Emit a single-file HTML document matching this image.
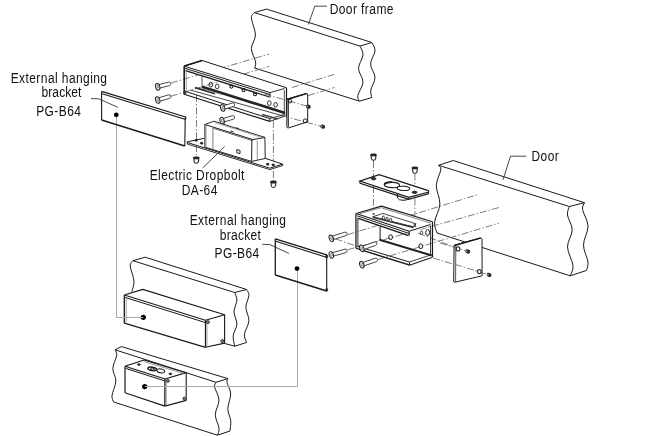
<!DOCTYPE html>
<html><head><meta charset="utf-8"><style>
html,body{margin:0;padding:0;background:#fff;}
svg{display:block;will-change:transform;}
text{font-family:"Liberation Sans",sans-serif;fill:#111;}
</style></head><body>
<svg width="650" height="436" viewBox="0 0 650 436">
<rect width="650" height="436" fill="#fff"/>
<text transform="translate(10.70 82.5) scale(1 1.15)" x="0" y="0" font-size="12" letter-spacing="0.42">External hanging</text>
<text transform="translate(41.50 96.6) scale(1 1.15)" x="0" y="0" font-size="12" letter-spacing="0.1">bracket</text>
<text transform="translate(36.20 115.6) scale(1 1.15)" x="0" y="0" font-size="12" letter-spacing="0.42">PG-B64</text>
<text transform="translate(329.70 13.8) scale(1 1.15)" x="0" y="0" font-size="12" letter-spacing="0.42">Door frame</text>
<text transform="translate(149.70 179.8) scale(1 1.15)" x="0" y="0" font-size="12" letter-spacing="0.42">Electric Dropbolt</text>
<text transform="translate(181.70 194.7) scale(1 1.15)" x="0" y="0" font-size="12" letter-spacing="0.42">DA-64</text>
<text transform="translate(531.50 160.7) scale(1 1.15)" x="0" y="0" font-size="12" letter-spacing="0.42">Door</text>
<text transform="translate(189.70 224.8) scale(1 1.15)" x="0" y="0" font-size="12" letter-spacing="0.42">External hanging</text>
<text transform="translate(219.70 239.7) scale(1 1.15)" x="0" y="0" font-size="12" letter-spacing="0.3">bracket</text>
<text transform="translate(214.50 257.6) scale(1 1.15)" x="0" y="0" font-size="12" letter-spacing="0.42">PG-B64</text>
<polyline points="254.5,12.6 266.5,9.1 371.9,42.5 360,46.1 254.5,12.6" fill="none" stroke="#1a1a1a" stroke-width="1.0" stroke-linejoin="round"/>
<path d="M254.6,12.7 C254.07,13.55 251.27,14.08 251.4,17.8 C251.53,21.52 255.40,29.88 255.4,35 C255.40,40.12 251.37,44.00 251.4,48.5 C251.43,53.00 255.07,58.72 255.6,62 C256.13,65.28 254.77,67.17 254.6,68.2" fill="none" stroke="#1a1a1a" stroke-width="1.0" />
<line x1="254.5" y1="68" x2="359.4" y2="101.2" stroke="#1a1a1a" stroke-width="1.0" />
<path d="M360,46.1 C360.50,47.58 363.25,51.27 363,55 C362.75,58.73 358.50,64.00 358.5,68.5 C358.50,73.00 363.12,77.50 363,82 C362.88,86.50 358.40,92.30 357.8,95.5 C357.20,98.70 359.13,100.25 359.4,101.2" fill="none" stroke="#1a1a1a" stroke-width="1.0" />
<path d="M371.9,42.5 C372.42,43.92 375.22,47.42 375,51 C374.78,54.58 370.60,59.58 370.6,64 C370.60,68.42 374.97,73.17 375,77.5 C375.03,81.83 371.32,86.67 370.8,90 C370.28,93.33 371.72,96.25 371.9,97.5" fill="none" stroke="#1a1a1a" stroke-width="1.0" />
<line x1="359.4" y1="101.2" x2="371.9" y2="97.5" stroke="#1a1a1a" stroke-width="1.0" />
<polyline points="308.3,24.5 314.8,6.2 327,6.2" fill="none" stroke="#333" stroke-width="0.9" stroke-linejoin="round"/>
<polyline points="438.6,165.3 453.2,160.5 584.5,202.7 569.4,206.5 438.6,165.3" fill="none" stroke="#1a1a1a" stroke-width="1.0" stroke-linejoin="round"/>
<path d="M438.6,165.3 C438.97,166.05 441.18,166.43 440.8,169.8 C440.42,173.17 436.45,179.80 436.3,185.5 C436.15,191.20 440.18,197.92 439.9,204 C439.62,210.08 435.08,217.17 434.6,222 C434.12,226.83 436.60,231.17 437,233" fill="none" stroke="#1a1a1a" stroke-width="1.0" />
<line x1="437" y1="233" x2="570.2" y2="275.8" stroke="#1a1a1a" stroke-width="1.0" />
<path d="M569.4,206.5 C569.08,207.92 567.03,211.08 567.5,215 C567.97,218.92 572.20,224.67 572.2,230 C572.20,235.33 567.37,241.08 567.5,247 C567.63,252.92 572.55,260.70 573,265.5 C573.45,270.30 570.67,274.08 570.2,275.8" fill="none" stroke="#1a1a1a" stroke-width="1.0" />
<path d="M584.5,202.7 C584.18,203.83 582.02,205.58 582.6,209.5 C583.18,213.42 587.85,220.28 588,226.2 C588.15,232.12 583.50,239.03 583.5,245 C583.50,250.97 587.52,257.75 588,262 C588.48,266.25 586.67,269.08 586.4,270.5" fill="none" stroke="#1a1a1a" stroke-width="1.0" />
<line x1="570.2" y1="275.8" x2="586.4" y2="270.5" stroke="#1a1a1a" stroke-width="1.0" />
<polyline points="503.1,179.7 510.5,156.2 526.2,156.2" fill="none" stroke="#333" stroke-width="0.9" stroke-linejoin="round"/>
<polyline points="132.9,260.7 145.2,257.2 246.6,289.5 234.7,292.5 132.9,260.7" fill="none" stroke="#1a1a1a" stroke-width="1.0" stroke-linejoin="round"/>
<path d="M132.9,260.7 C132.45,261.58 130.02,262.62 130.2,266 C130.38,269.38 133.72,276.73 134,281 C134.28,285.27 132.25,289.83 131.9,291.6" fill="none" stroke="#1a1a1a" stroke-width="1.0" />
<path d="M234.7,292.5 C235.07,293.75 237.02,296.75 236.9,300 C236.78,303.25 234.00,308.00 234,312 C234.00,316.00 237.03,320.05 236.9,324 C236.77,327.95 233.57,332.00 233.2,335.7 C232.83,339.40 234.45,344.45 234.7,346.2" fill="none" stroke="#1a1a1a" stroke-width="1.0" />
<path d="M246.6,289.5 C246.98,290.48 249.02,292.42 248.9,295.4 C248.78,298.38 245.90,303.17 245.9,307.4 C245.90,311.63 249.15,316.32 248.9,320.8 C248.65,325.28 244.78,330.68 244.4,334.3 C244.02,337.92 246.23,341.13 246.6,342.5" fill="none" stroke="#1a1a1a" stroke-width="1.0" />
<line x1="234.7" y1="346.2" x2="246.6" y2="342.5" stroke="#1a1a1a" stroke-width="1.0" />
<line x1="224" y1="343.3" x2="234.7" y2="346.2" stroke="#1a1a1a" stroke-width="1.0" />
<path d="M124.3,295 L142.8,289.4 L224.6,314.8 L224.6,343.1 L205.5,347.3 L124.3,323.2 Z" fill="#fff" stroke="none" stroke-width="0" />
<polyline points="124.3,295 142.8,289.4 224.6,314.8 205.5,320.3 124.3,295" fill="none" stroke="#1a1a1a" stroke-width="1.1" stroke-linejoin="round"/>
<line x1="125" y1="297.4" x2="205.5" y2="322.6" stroke="#1a1a1a" stroke-width="1.0" />
<line x1="124.3" y1="295" x2="124.3" y2="323.2" stroke="#1a1a1a" stroke-width="1.3" />
<line x1="126.2" y1="297" x2="126.2" y2="322.5" stroke="#777" stroke-width="0.7" />
<line x1="124.3" y1="323.2" x2="205.5" y2="347.3" stroke="#1a1a1a" stroke-width="1.2" />
<line x1="205.5" y1="320.3" x2="205.5" y2="347.3" stroke="#1a1a1a" stroke-width="1.3" />
<line x1="207" y1="322" x2="207" y2="346.5" stroke="#888" stroke-width="0.7" />
<line x1="224.6" y1="314.8" x2="224.6" y2="343.1" stroke="#1a1a1a" stroke-width="1.1" />
<line x1="205.5" y1="347.3" x2="224.6" y2="343.1" stroke="#1a1a1a" stroke-width="1.1" />
<ellipse cx="207.9" cy="322.1" rx="1.5" ry="1.5" fill="#888" stroke="#333" stroke-width="1.0" transform="rotate(0 207.9 322.1)"/>
<ellipse cx="222.3" cy="341" rx="1.5" ry="1.5" fill="#888" stroke="#333" stroke-width="1.0" transform="rotate(0 222.3 341)"/>
<circle cx="143.3" cy="317.3" r="2.6" fill="#000"/>
<polyline points="116.5,115 116.5,317.5 143.2,317.5" fill="none" stroke="#a8a8a8" stroke-width="1.0" stroke-linejoin="round"/>
<polyline points="115.1,349.8 121.5,346.6 227.8,378.6 216,382.3 115.1,349.8" fill="none" stroke="#1a1a1a" stroke-width="1.0" stroke-linejoin="round"/>
<path d="M115.1,349.8 C115.37,350.75 117.08,352.38 116.7,355.5 C116.32,358.62 112.93,364.25 112.8,368.5 C112.67,372.75 116.03,376.50 115.9,381 C115.77,385.50 112.38,392.00 112,395.5 C111.62,399.00 113.33,400.92 113.6,402" fill="none" stroke="#1a1a1a" stroke-width="1.0" />
<line x1="113.6" y1="402" x2="217.5" y2="435.2" stroke="#1a1a1a" stroke-width="1.0" />
<path d="M216,382.3 C215.77,383.08 214.10,384.05 214.6,387 C215.10,389.95 218.88,395.40 219,400 C219.12,404.60 215.30,409.93 215.3,414.6 C215.30,419.27 218.63,424.57 219,428 C219.37,431.43 217.75,434.00 217.5,435.2" fill="none" stroke="#1a1a1a" stroke-width="1.0" />
<path d="M227.8,378.6 C227.67,379.25 226.52,379.93 227,382.5 C227.48,385.07 230.57,389.62 230.7,394 C230.83,398.38 227.80,404.38 227.8,408.8 C227.80,413.22 230.33,416.80 230.7,420.5 C231.07,424.20 230.12,429.25 230,431" fill="none" stroke="#1a1a1a" stroke-width="1.0" />
<line x1="217.5" y1="435.2" x2="230" y2="431" stroke="#1a1a1a" stroke-width="1.0" />
<path d="M125,366.3 L144,360 L186.2,372.7 L186.2,400.4 L164.8,406.1 L125,392.8 Z" fill="#fff" stroke="none" stroke-width="0" />
<polyline points="125,366.3 144,360 186.2,372.7 165,379 125,366.3" fill="none" stroke="#1a1a1a" stroke-width="1.2" stroke-linejoin="round"/>
<line x1="125.5" y1="368.3" x2="165" y2="381" stroke="#1a1a1a" stroke-width="1.0" />
<line x1="144.5" y1="361.8" x2="184" y2="373.5" stroke="#666" stroke-width="0.7" />
<line x1="125" y1="366.3" x2="125" y2="392.8" stroke="#1a1a1a" stroke-width="1.2" />
<line x1="125" y1="392.8" x2="164.8" y2="406.1" stroke="#1a1a1a" stroke-width="1.2" />
<line x1="165" y1="379" x2="164.8" y2="406.1" stroke="#1a1a1a" stroke-width="1.3" />
<line x1="166.4" y1="380.5" x2="166.3" y2="405.5" stroke="#888" stroke-width="0.7" />
<line x1="186.2" y1="372.7" x2="186.2" y2="400.4" stroke="#1a1a1a" stroke-width="1.1" />
<line x1="164.8" y1="406.1" x2="186.2" y2="400.4" stroke="#1a1a1a" stroke-width="1.1" />
<ellipse cx="167.9" cy="380.9" rx="1.4" ry="1.4" fill="#888" stroke="#333" stroke-width="1.0" transform="rotate(0 167.9 380.9)"/>
<ellipse cx="184.3" cy="398.5" rx="1.4" ry="1.4" fill="#888" stroke="#333" stroke-width="1.0" transform="rotate(0 184.3 398.5)"/>
<ellipse cx="138.9" cy="364.5" rx="1.5" ry="0.8" fill="#333" stroke="#1a1a1a" stroke-width="0.8" transform="rotate(0 138.9 364.5)"/>
<ellipse cx="170.4" cy="373.9" rx="1.5" ry="0.8" fill="#333" stroke="#1a1a1a" stroke-width="0.8" transform="rotate(0 170.4 373.9)"/>
<ellipse cx="152.2" cy="368.9" rx="4.4" ry="1.7" fill="#fff" stroke="#1a1a1a" stroke-width="1.4" transform="rotate(10 152.2 368.9)"/>
<ellipse cx="152.6" cy="369" rx="2.2" ry="0.9" fill="none" stroke="#1a1a1a" stroke-width="0.9" transform="rotate(10 152.6 369)"/>
<ellipse cx="160.8" cy="370.9" rx="3.9" ry="1.9" fill="#fff" stroke="#1a1a1a" stroke-width="1.0" transform="rotate(10 160.8 370.9)"/>
<circle cx="144.7" cy="386.6" r="2.6" fill="#000"/>
<polyline points="297.5,268.6 297.5,386.5 144.8,386.5" fill="none" stroke="#a8a8a8" stroke-width="1.0" stroke-linejoin="round"/>
<path d="M101.6,91.4 L185.6,117 L185.6,119.8 L101.6,94 Z" fill="#fff" stroke="none" stroke-width="0" />
<polyline points="101.6,91.4 185.6,117 185.6,119.6" fill="none" stroke="#1a1a1a" stroke-width="1.3" stroke-linejoin="round"/>
<line x1="102.2" y1="93.8" x2="185" y2="119.3" stroke="#1a1a1a" stroke-width="1.1" />
<line x1="101.6" y1="91.4" x2="101.6" y2="120" stroke="#1a1a1a" stroke-width="1.1" />
<line x1="101.6" y1="120" x2="184.8" y2="146" stroke="#1a1a1a" stroke-width="1.4" />
<line x1="185.2" y1="118" x2="184.8" y2="146" stroke="#1a1a1a" stroke-width="1.1" />
<circle cx="116.3" cy="114.8" r="2.4" fill="#000"/>
<polyline points="91,98.6 98.8,98.8 118,107.4" fill="none" stroke="#333" stroke-width="0.9" stroke-linejoin="round"/>
<polyline points="275.3,238.8 326.7,254.9 326.7,257.6" fill="none" stroke="#1a1a1a" stroke-width="1.3" stroke-linejoin="round"/>
<line x1="275.8" y1="241.2" x2="326.2" y2="257.2" stroke="#1a1a1a" stroke-width="1.1" />
<line x1="275.3" y1="238.8" x2="275.3" y2="275" stroke="#1a1a1a" stroke-width="1.3" />
<line x1="275.3" y1="275" x2="326.7" y2="291" stroke="#1a1a1a" stroke-width="1.4" />
<line x1="326.7" y1="255" x2="326.7" y2="291" stroke="#1a1a1a" stroke-width="1.1" />
<ellipse cx="326.7" cy="256.5" rx="1.0" ry="1.5" fill="none" stroke="#1a1a1a" stroke-width="0.9" transform="rotate(0 326.7 256.5)"/>
<ellipse cx="326.7" cy="289.8" rx="1.0" ry="1.5" fill="none" stroke="#1a1a1a" stroke-width="0.9" transform="rotate(0 326.7 289.8)"/>
<circle cx="297" cy="268.6" r="2.4" fill="#000"/>
<polyline points="262.2,244.3 269.8,244.6 288.9,253.4" fill="none" stroke="#333" stroke-width="0.9" stroke-linejoin="round"/>
<line x1="171" y1="83" x2="269.2" y2="54" stroke="#666" stroke-width="0.85" stroke-dasharray="7 2 1.5 2"/>
<line x1="171" y1="96.2" x2="269.2" y2="66.3" stroke="#666" stroke-width="0.85" stroke-dasharray="7 2 1.5 2"/>
<line x1="292" y1="87.5" x2="334.5" y2="74.3" stroke="#666" stroke-width="0.85" stroke-dasharray="7 2 1.5 2"/>
<line x1="308.1" y1="95.6" x2="334.5" y2="87.5" stroke="#666" stroke-width="0.85" stroke-dasharray="7 2 1.5 2"/>
<line x1="196.5" y1="95" x2="196.5" y2="155" stroke="#666" stroke-width="0.85" stroke-dasharray="7 2 1.5 2"/>
<line x1="273.4" y1="121" x2="273.4" y2="181" stroke="#666" stroke-width="0.85" stroke-dasharray="7 2 1.5 2"/>
<path d="M184.3,66 L202.1,60.5 L286.5,87.6 L286.5,93 L270,99 L184.3,71 Z" fill="#fff" stroke="none" stroke-width="0" />
<polyline points="184.3,66 202.1,60.5 286,87.6" fill="none" stroke="#1a1a1a" stroke-width="1.0" stroke-linejoin="round"/>
<line x1="184.5" y1="66" x2="202.1" y2="60.6" stroke="#1a1a1a" stroke-width="1.6" />
<line x1="184.6" y1="66.3" x2="270" y2="92.6" stroke="#1a1a1a" stroke-width="1.0" />
<line x1="185.2" y1="68.4" x2="270" y2="94.6" stroke="#1a1a1a" stroke-width="1.0" />
<line x1="185.5" y1="70.6" x2="269.5" y2="97" stroke="#1a1a1a" stroke-width="1.3" />
<polyline points="270,92.6 270,97.6" fill="none" stroke="#1a1a1a" stroke-width="0.9" stroke-linejoin="round"/>
<line x1="270" y1="92.6" x2="284.5" y2="88.5" stroke="#1a1a1a" stroke-width="0.9" />
<line x1="184.2" y1="66" x2="184.2" y2="94.5" stroke="#1a1a1a" stroke-width="1.6" />
<line x1="186.3" y1="69" x2="186.3" y2="92" stroke="#777" stroke-width="0.7" />
<line x1="202" y1="76" x2="202" y2="86.5" stroke="#555" stroke-width="1.0" />
<line x1="286.5" y1="87.6" x2="286.5" y2="116.3" stroke="#1a1a1a" stroke-width="1.2" />
<line x1="284.3" y1="90" x2="284.3" y2="114" stroke="#1a1a1a" stroke-width="0.8" />
<line x1="184.2" y1="94.2" x2="269.7" y2="121.4" stroke="#1a1a1a" stroke-width="1.2" />
<line x1="184.8" y1="91.2" x2="269.7" y2="118.6" stroke="#1a1a1a" stroke-width="1.0" />
<line x1="190.2" y1="90" x2="285" y2="116.4" stroke="#333" stroke-width="0.9" />
<line x1="202" y1="86.8" x2="285" y2="113" stroke="#222" stroke-width="2.6" />
<line x1="195" y1="87.6" x2="215" y2="93.5" stroke="#333" stroke-width="2.0" />
<line x1="269.7" y1="118.6" x2="269.7" y2="121.4" stroke="#1a1a1a" stroke-width="1" />
<line x1="269.7" y1="121.4" x2="285.4" y2="115.8" stroke="#1a1a1a" stroke-width="1" />
<line x1="269.7" y1="118.6" x2="285.4" y2="114.2" stroke="#1a1a1a" stroke-width="0.8" />
<circle cx="184.8" cy="92.8" r="1.5" fill="#333"/>
<line x1="206" y1="90" x2="222" y2="94.6" stroke="#999" stroke-width="1.0" />
<line x1="262" y1="114.5" x2="278" y2="119" stroke="#444" stroke-width="1.4" />
<ellipse cx="210.8" cy="84.6" rx="1.8" ry="2.4" fill="none" stroke="#1a1a1a" stroke-width="0.9" transform="rotate(0 210.8 84.6)"/>
<ellipse cx="217.2" cy="86.5" rx="1.8" ry="2.4" fill="none" stroke="#1a1a1a" stroke-width="0.9" transform="rotate(0 217.2 86.5)"/>
<ellipse cx="269.3" cy="103.1" rx="1.8" ry="2.4" fill="none" stroke="#1a1a1a" stroke-width="0.9" transform="rotate(0 269.3 103.1)"/>
<ellipse cx="275.6" cy="104.8" rx="1.8" ry="2.4" fill="none" stroke="#1a1a1a" stroke-width="0.9" transform="rotate(0 275.6 104.8)"/>
<ellipse cx="231.3" cy="86.6" rx="1.5" ry="1.6" fill="#fff" stroke="#222" stroke-width="1.1" transform="rotate(0 231.3 86.6)"/>
<line x1="229.70000000000002" y1="85.0" x2="232.9" y2="86.0" stroke="#1a1a1a" stroke-width="1.2" />
<ellipse cx="243.5" cy="90.2" rx="1.5" ry="1.6" fill="#fff" stroke="#222" stroke-width="1.1" transform="rotate(0 243.5 90.2)"/>
<line x1="241.9" y1="88.60000000000001" x2="245.1" y2="89.60000000000001" stroke="#1a1a1a" stroke-width="1.2" />
<ellipse cx="255" cy="94.2" rx="1.5" ry="1.6" fill="#fff" stroke="#222" stroke-width="1.1" transform="rotate(0 255 94.2)"/>
<line x1="253.4" y1="92.60000000000001" x2="256.6" y2="93.60000000000001" stroke="#1a1a1a" stroke-width="1.2" />
<path d="M159.12,88.29 L169.51,85.59 A1.8,1.8 0 0 0 168.61,82.11 L158.22,84.81" fill="#fff" stroke="#333" stroke-width="0.9" />
<ellipse cx="157.7" cy="86.8" rx="2.1" ry="3.4" fill="#fff" stroke="#222" stroke-width="1" transform="rotate(-14.5 157.7 86.8)"/>
<ellipse cx="157.99" cy="86.72" rx="0.9" ry="1.53" fill="none" stroke="#555" stroke-width="0.7" transform="rotate(-14.5 157.99 86.72)"/>
<path d="M159.17,101.44 L169.59,98.34 A1.8,1.8 0 0 0 168.56,94.89 L158.14,97.99" fill="#fff" stroke="#333" stroke-width="0.9" />
<ellipse cx="157.7" cy="100" rx="2.1" ry="3.4" fill="#fff" stroke="#222" stroke-width="1" transform="rotate(-16.6 157.7 100)"/>
<ellipse cx="157.99" cy="99.91" rx="0.9" ry="1.53" fill="none" stroke="#555" stroke-width="0.7" transform="rotate(-16.6 157.99 99.91)"/>
<path d="M224.09,109.33 L233.41,106.45 A1.8,1.8 0 0 0 232.35,103.01 L223.03,105.89" fill="#fff" stroke="#333" stroke-width="0.9" />
<ellipse cx="222.6" cy="107.9" rx="2.1" ry="3.4" fill="#fff" stroke="#222" stroke-width="1" transform="rotate(-17.1 222.6 107.9)"/>
<ellipse cx="222.89" cy="107.81" rx="0.9" ry="1.53" fill="none" stroke="#555" stroke-width="0.7" transform="rotate(-17.1 222.89 107.81)"/>
<path d="M287,99.1 L306.2,93.5 Q307.7,93.3 307.7,95 L307.7,121.8 L288.5,127.9 Q286.8,128.2 286.8,126.5 Z" fill="#fff" stroke="#1a1a1a" stroke-width="1.0" />
<line x1="287.1" y1="99.5" x2="306.5" y2="93.6" stroke="#1a1a1a" stroke-width="1.5" />
<line x1="288.3" y1="100" x2="288.3" y2="127" stroke="#1a1a1a" stroke-width="1.0" />
<line x1="264.6" y1="94" x2="308" y2="106.5" stroke="#666" stroke-width="0.85" stroke-dasharray="7 2 1.5 2"/>
<line x1="282" y1="115.7" x2="321.5" y2="126.5" stroke="#666" stroke-width="0.85" stroke-dasharray="7 2 1.5 2"/>
<ellipse cx="290.1" cy="101.1" rx="1.7" ry="1.9" fill="none" stroke="#1a1a1a" stroke-width="0.9" transform="rotate(0 290.1 101.1)"/>
<ellipse cx="305.2" cy="120.8" rx="1.9" ry="2.0" fill="none" stroke="#1a1a1a" stroke-width="1.0" transform="rotate(0 305.2 120.8)"/>
<ellipse cx="308.3" cy="106.6" rx="2.5" ry="2.0" fill="#262626" transform="rotate(20 308.3 106.6)"/>
<ellipse cx="307.2" cy="106.39999999999999" rx="0.7" ry="0.9" fill="#aaa"/>
<ellipse cx="322.7" cy="126.6" rx="2.5" ry="2.0" fill="#262626" transform="rotate(20 322.7 126.6)"/>
<ellipse cx="321.59999999999997" cy="126.39999999999999" rx="0.7" ry="0.9" fill="#aaa"/>
<path d="M187.2,141.9 L204.2,138.3 L265.3,158.3 L282.6,164.2 L269.8,168.2 L187.6,142.6 Z" fill="#fff" stroke="#1a1a1a" stroke-width="1.0" />
<line x1="187.5" y1="144.1" x2="269.8" y2="169.6" stroke="#333" stroke-width="1.0" />
<line x1="269.8" y1="169.6" x2="282.6" y2="165.6" stroke="#333" stroke-width="1.0" />
<line x1="282.6" y1="164.2" x2="282.6" y2="165.6" stroke="#1a1a1a" stroke-width="1.0" />
<line x1="187.2" y1="141.9" x2="187.5" y2="144.1" stroke="#1a1a1a" stroke-width="1.0" />
<ellipse cx="196.2" cy="140.3" rx="1.3" ry="0.9" fill="#222" stroke="#1a1a1a" stroke-width="0.8" transform="rotate(0 196.2 140.3)"/>
<ellipse cx="201.6" cy="143.2" rx="1.3" ry="1.0" fill="#222" stroke="#1a1a1a" stroke-width="0.8" transform="rotate(0 201.6 143.2)"/>
<ellipse cx="267.7" cy="164.2" rx="1.3" ry="1.0" fill="#222" stroke="#1a1a1a" stroke-width="0.8" transform="rotate(0 267.7 164.2)"/>
<ellipse cx="273.2" cy="164.9" rx="1.3" ry="1.0" fill="#222" stroke="#1a1a1a" stroke-width="0.8" transform="rotate(0 273.2 164.9)"/>
<path d="M223.58,122.13 L233.50,119.14 A1.8,1.8 0 0 0 232.46,115.70 L222.54,118.69" fill="#fff" stroke="#333" stroke-width="0.9" />
<ellipse cx="222.1" cy="120.7" rx="2.1" ry="3.4" fill="#fff" stroke="#222" stroke-width="1" transform="rotate(-16.8 222.1 120.7)"/>
<ellipse cx="222.39" cy="120.61" rx="0.9" ry="1.53" fill="none" stroke="#555" stroke-width="0.7" transform="rotate(-16.8 222.39 120.61)"/>
<path d="M204.8,124.5 L214,121.2 L264.9,137.4 L265.2,158.5 L251.6,161.4 L204.8,147.1 Z" fill="#fff" stroke="#2a2a2a" stroke-width="1.0" />
<line x1="204.8" y1="124.5" x2="252.9" y2="139.6" stroke="#1a1a1a" stroke-width="1.0" />
<line x1="213" y1="128.2" x2="252.9" y2="140.8" stroke="#444" stroke-width="0.8" />
<line x1="252.9" y1="139.6" x2="264.9" y2="137.4" stroke="#1a1a1a" stroke-width="1.0" />
<line x1="251.9" y1="139.8" x2="251.6" y2="161.4" stroke="#1a1a1a" stroke-width="1.0" />
<line x1="257.3" y1="140.5" x2="257.3" y2="160.3" stroke="#888" stroke-width="0.9" />
<line x1="205.6" y1="125.5" x2="205.6" y2="147" stroke="#999" stroke-width="1.8" />
<line x1="212.9" y1="128" x2="212.9" y2="149.2" stroke="#999" stroke-width="1.3" />
<line x1="214.5" y1="122.5" x2="263.5" y2="138" stroke="#888" stroke-width="0.7" />
<line x1="236" y1="127.8" x2="239" y2="128.7" stroke="#333" stroke-width="1.2" />
<line x1="230.5" y1="131" x2="233.5" y2="132" stroke="#333" stroke-width="1.2" />
<path d="M236.8,149.6 L240,150.4 L240,153.6 L236.8,152.8 Z" fill="#fff" stroke="#222" stroke-width="1.0" />
<path d="M193.9,158.60000000000002 L194.10000000000002,161.3 Q194.5,163.3 196.3,163.3 Q198.10000000000002,163.3 198.5,161.3 L198.70000000000002,158.60000000000002 Z" fill="#fff" stroke="#222" stroke-width="1.1" />
<ellipse cx="196.3" cy="157.8" rx="3.3" ry="1.4" fill="#222"/>
<circle cx="196.3" cy="160.5" r="0.9" fill="#fff"/>
<path d="M271.0,182.8 L271.2,185.5 Q271.59999999999997,187.5 273.4,187.5 Q275.2,187.5 275.59999999999997,185.5 L275.79999999999995,182.8 Z" fill="#fff" stroke="#222" stroke-width="1.1" />
<ellipse cx="273.4" cy="182.0" rx="3.3" ry="1.4" fill="#222"/>
<circle cx="273.4" cy="184.7" r="0.9" fill="#fff"/>
<line x1="202.6" y1="168" x2="224.7" y2="146.5" stroke="#333" stroke-width="0.9" />
<line x1="373.5" y1="161" x2="373.5" y2="212" stroke="#666" stroke-width="0.85" stroke-dasharray="7 2 1.5 2"/>
<line x1="414.9" y1="173.5" x2="414.9" y2="226" stroke="#666" stroke-width="0.85" stroke-dasharray="7 2 1.5 2"/>
<path d="M397.3,194 L397.6,198 Q398.5,200.3 403,200.3 Q408,200.3 409,198.5 L409.6,196" fill="#fff" stroke="#1a1a1a" stroke-width="1.0" />
<path d="M359.8,181.1 L379.1,174.6 L428.2,190.6 Q429.3,191.6 428,192.3 L408.8,197.4 Z" fill="#fff" stroke="#1a1a1a" stroke-width="1.2" />
<path d="M359.8,181.1 L360.2,183.3 L408.8,199.3 L428.3,193.8 L428.3,192" fill="none" stroke="#1a1a1a" stroke-width="1.2" />
<ellipse cx="391.9" cy="184.9" rx="7.7" ry="2.75" fill="#fff" stroke="#1a1a1a" stroke-width="1.1" transform="rotate(5 391.9 184.9)"/>
<path d="M384.5,184.2 Q387,182 392,182.1" fill="none" stroke="#222" stroke-width="1.6" />
<ellipse cx="403.5" cy="188.4" rx="6.25" ry="2.1" fill="#fff" stroke="#1a1a1a" stroke-width="1.0" transform="rotate(3 403.5 188.4)"/>
<ellipse cx="373.6" cy="178.7" rx="2.2" ry="1.1" fill="#333" stroke="#1a1a1a" stroke-width="1.0" transform="rotate(0 373.6 178.7)"/>
<ellipse cx="414.6" cy="192.3" rx="2.4" ry="1.1" fill="#333" stroke="#1a1a1a" stroke-width="1.0" transform="rotate(0 414.6 192.3)"/>
<path d="M371.1,155.60000000000002 L371.3,158.3 Q371.7,160.3 373.5,160.3 Q375.3,160.3 375.7,158.3 L375.9,155.60000000000002 Z" fill="#fff" stroke="#222" stroke-width="1.1" />
<ellipse cx="373.5" cy="154.8" rx="3.3" ry="1.4" fill="#222"/>
<circle cx="373.5" cy="157.5" r="0.9" fill="#fff"/>
<path d="M412.5,168.60000000000002 L412.7,171.3 Q413.09999999999997,173.3 414.9,173.3 Q416.7,173.3 417.09999999999997,171.3 L417.29999999999995,168.60000000000002 Z" fill="#fff" stroke="#222" stroke-width="1.1" />
<ellipse cx="414.9" cy="167.8" rx="3.3" ry="1.4" fill="#222"/>
<circle cx="414.9" cy="170.5" r="0.9" fill="#fff"/>
<line x1="347.5" y1="234.7" x2="478.8" y2="194.3" stroke="#666" stroke-width="0.85" stroke-dasharray="7 2 1.5 2"/>
<line x1="347.5" y1="249.8" x2="499" y2="207.5" stroke="#666" stroke-width="0.85" stroke-dasharray="7 2 1.5 2"/>
<line x1="377.8" y1="259.5" x2="499" y2="223.1" stroke="#666" stroke-width="0.85" stroke-dasharray="7 2 1.5 2"/>
<line x1="418.3" y1="233.2" x2="458" y2="248.6" stroke="#666" stroke-width="0.85" stroke-dasharray="7 2 1.5 2"/>
<line x1="433" y1="258" x2="479" y2="272" stroke="#666" stroke-width="0.85" stroke-dasharray="7 2 1.5 2"/>
<path d="M356.2,213.5 L381.5,206.1 L432.5,221.8 L432.5,224.5 L409.2,233.8 L356.2,217.5 Z" fill="#fff" stroke="none" stroke-width="0" />
<polyline points="356.2,213.5 381.5,206.1 432.5,221.8" fill="none" stroke="#1a1a1a" stroke-width="1.1" stroke-linejoin="round"/>
<line x1="356.2" y1="213.5" x2="409.2" y2="231.2" stroke="#1a1a1a" stroke-width="1.1" />
<line x1="357.2" y1="215.8" x2="409.2" y2="233.5" stroke="#1a1a1a" stroke-width="1.0" />
<line x1="357.5" y1="218.2" x2="408.5" y2="235.6" stroke="#1a1a1a" stroke-width="1.4" />
<line x1="409.2" y1="231.2" x2="409.2" y2="235.6" stroke="#1a1a1a" stroke-width="1.2" />
<line x1="409.2" y1="231.2" x2="430.5" y2="224.5" stroke="#1a1a1a" stroke-width="1.0" />
<line x1="382" y1="208" x2="431" y2="223.2" stroke="#555" stroke-width="0.7" />
<line x1="360" y1="213.5" x2="381.5" y2="207.6" stroke="#555" stroke-width="0.7" />
<path d="M372.5,216.8 L383,213.5 L416,223.8 L413.5,227 Z" fill="none" stroke="#333" stroke-width="0.9" />
<line x1="373" y1="217.3" x2="413.5" y2="227.4" stroke="#333" stroke-width="1.6" />
<ellipse cx="383.3" cy="217.8" rx="1.1" ry="1.8" fill="#fff" stroke="#222" stroke-width="0.9" transform="rotate(0 383.3 217.8)"/>
<ellipse cx="387" cy="219" rx="1.1" ry="1.8" fill="#fff" stroke="#222" stroke-width="0.9" transform="rotate(0 387 219)"/>
<ellipse cx="390.7" cy="220.2" rx="1.1" ry="1.8" fill="#fff" stroke="#222" stroke-width="0.9" transform="rotate(0 390.7 220.2)"/>
<line x1="372.6" y1="213.6" x2="374.6" y2="214.2" stroke="#222" stroke-width="1.3" />
<path d="M413.5,224 L416,224.8 L413.8,226 L416.2,226.6" fill="none" stroke="#222" stroke-width="0.8" />
<line x1="355.9" y1="213.5" x2="355.9" y2="248.3" stroke="#555" stroke-width="1.7" />
<line x1="335.5" y1="238.8" x2="356" y2="246" stroke="#666" stroke-width="0.85" stroke-dasharray="7 2 1.5 2"/>
<line x1="357.9" y1="219" x2="357.9" y2="247" stroke="#1a1a1a" stroke-width="0.9" />
<line x1="380.1" y1="226.5" x2="380.1" y2="239.8" stroke="#1a1a1a" stroke-width="1.0" />
<line x1="432.5" y1="221.8" x2="432.5" y2="257.5" stroke="#1a1a1a" stroke-width="1.2" />
<line x1="430.6" y1="225.5" x2="430.6" y2="255.5" stroke="#1a1a1a" stroke-width="0.9" />
<ellipse cx="427.6" cy="232.5" rx="1.9" ry="3.0" fill="none" stroke="#1a1a1a" stroke-width="1.0" transform="rotate(0 427.6 232.5)"/>
<ellipse cx="421.5" cy="232.8" rx="1.3" ry="1.7" fill="none" stroke="#1a1a1a" stroke-width="0.8" transform="rotate(0 421.5 232.8)"/>
<line x1="379.5" y1="239.8" x2="431.8" y2="255.5" stroke="#222" stroke-width="2.0" />
<line x1="355.9" y1="248.3" x2="409.5" y2="265.3" stroke="#1a1a1a" stroke-width="1.2" />
<line x1="357.2" y1="246.3" x2="409.5" y2="262" stroke="#1a1a1a" stroke-width="1.0" />
<line x1="358.5" y1="249" x2="409.5" y2="264.7" stroke="#1a1a1a" stroke-width="0.8" />
<line x1="409.5" y1="262" x2="409.5" y2="265.3" stroke="#1a1a1a" stroke-width="1.0" />
<line x1="409.5" y1="265.3" x2="431.8" y2="257.5" stroke="#1a1a1a" stroke-width="1.1" />
<line x1="409.5" y1="262" x2="430.5" y2="255" stroke="#1a1a1a" stroke-width="0.8" />
<ellipse cx="390.6" cy="237.2" rx="1.9" ry="2.4" fill="none" stroke="#1a1a1a" stroke-width="1.0" transform="rotate(0 390.6 237.2)"/>
<ellipse cx="420.7" cy="246.3" rx="1.9" ry="2.4" fill="none" stroke="#1a1a1a" stroke-width="1.0" transform="rotate(0 420.7 246.3)"/>
<path d="M363.33,249.67 L375.69,245.39 A1.8,1.8 0 0 0 374.51,241.99 L362.16,246.27" fill="#fff" stroke="#333" stroke-width="0.9" />
<ellipse cx="361.8" cy="248.3" rx="2.1" ry="3.4" fill="#fff" stroke="#222" stroke-width="1" transform="rotate(-19.1 361.8 248.3)"/>
<ellipse cx="362.08" cy="248.20" rx="0.9" ry="1.53" fill="none" stroke="#555" stroke-width="0.7" transform="rotate(-19.1 362.08 248.20)"/>
<path d="M332.79,239.72 L345.91,235.65 A1.8,1.8 0 0 0 344.85,232.21 L331.72,236.28" fill="#fff" stroke="#333" stroke-width="0.9" />
<ellipse cx="331.3" cy="238.3" rx="2.1" ry="3.4" fill="#fff" stroke="#222" stroke-width="1" transform="rotate(-17.2 331.3 238.3)"/>
<ellipse cx="331.59" cy="238.21" rx="0.9" ry="1.53" fill="none" stroke="#555" stroke-width="0.7" transform="rotate(-17.2 331.59 238.21)"/>
<path d="M332.75,256.36 L345.86,252.62 A1.8,1.8 0 0 0 344.88,249.16 L331.77,252.89" fill="#fff" stroke="#333" stroke-width="0.9" />
<ellipse cx="331.3" cy="254.9" rx="2.1" ry="3.4" fill="#fff" stroke="#222" stroke-width="1" transform="rotate(-15.9 331.3 254.9)"/>
<ellipse cx="331.59" cy="254.82" rx="0.9" ry="1.53" fill="none" stroke="#555" stroke-width="0.7" transform="rotate(-15.9 331.59 254.82)"/>
<path d="M363.32,266.09 L376.37,261.68 A1.8,1.8 0 0 0 375.22,258.27 L362.17,262.67" fill="#fff" stroke="#333" stroke-width="0.9" />
<ellipse cx="361.8" cy="264.7" rx="2.1" ry="3.4" fill="#fff" stroke="#222" stroke-width="1" transform="rotate(-18.7 361.8 264.7)"/>
<ellipse cx="362.08" cy="264.60" rx="0.9" ry="1.53" fill="none" stroke="#555" stroke-width="0.7" transform="rotate(-18.7 362.08 264.60)"/>
<path d="M454.1,245.3 L480,238 Q482,237.8 482,239.5 L482.1,275.8 L455,282.2 Q453.7,282.4 453.7,281 Z" fill="#fff" stroke="#1a1a1a" stroke-width="1.0" />
<line x1="454.4" y1="245.5" x2="480.5" y2="238.2" stroke="#1a1a1a" stroke-width="1.4" />
<line x1="455.8" y1="246" x2="455.6" y2="281.5" stroke="#555" stroke-width="1.0" />
<line x1="440" y1="243" x2="467.8" y2="251.5" stroke="#666" stroke-width="0.85" stroke-dasharray="7 2 1.5 2"/>
<line x1="455" y1="264.3" x2="489" y2="274.9" stroke="#666" stroke-width="0.85" stroke-dasharray="7 2 1.5 2"/>
<ellipse cx="458" cy="248.9" rx="1.8" ry="2.1" fill="#fff" stroke="#222" stroke-width="1.1" transform="rotate(0 458 248.9)"/>
<ellipse cx="479.3" cy="271.6" rx="1.8" ry="2.1" fill="#fff" stroke="#222" stroke-width="1.1" transform="rotate(0 479.3 271.6)"/>
<ellipse cx="467.8" cy="251.5" rx="2.5" ry="2.0" fill="#262626" transform="rotate(20 467.8 251.5)"/>
<ellipse cx="466.7" cy="251.3" rx="0.7" ry="0.9" fill="#aaa"/>
<ellipse cx="489" cy="274.9" rx="2.5" ry="2.0" fill="#262626" transform="rotate(20 489 274.9)"/>
<ellipse cx="487.9" cy="274.7" rx="0.7" ry="0.9" fill="#aaa"/>
</svg></body></html>
